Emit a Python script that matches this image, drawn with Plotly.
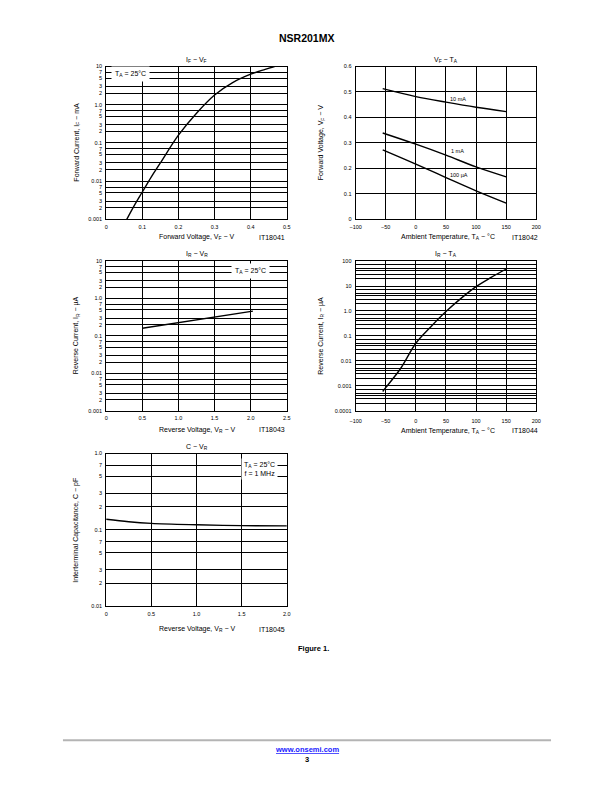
import plotly.graph_objects as go

# ---------------- data ----------------
# IF - VF
vf_v = [0.057, 0.08, 0.1, 0.125, 0.15, 0.2, 0.25, 0.3, 0.35, 0.4, 0.44, 0.466]
if_ma = [0.001, 0.0025, 0.0052, 0.013, 0.03, 0.16, 0.6, 1.8, 3.8, 6.3, 8.4, 10]

# VF - TA
ta_c = [-55, 0, 50, 100, 150]
vf_10ma = [0.513, 0.482, 0.46, 0.44, 0.423]
vf_1ma = [0.339, 0.295, 0.252, 0.206, 0.167]
vf_100ua = [0.273, 0.217, 0.164, 0.112, 0.064]
vfta_labels = ["10 mA", "1 mA", "100 µA"]
vfta_label_x = [70, 70, 72]
vfta_label_y = [0.474, 0.27, 0.176]

# IR - VR
vr_v = [0.5, 1.0, 1.5, 2.03]
ir_ua = [0.16, 0.226, 0.319, 0.46]

# IR - TA
ta2_c = [-55, -50, -25, 0, 25, 50, 75, 100, 125, 150]
ir2_ua = [0.0006, 0.00085, 0.0051, 0.051, 0.235, 0.95, 3.2, 9.4, 22, 48]

# C - VR
vr5_v = [0, 0.25, 0.5, 1.0, 1.5, 2.0]
cap_pf = [0.138, 0.128, 0.122, 0.117, 0.114, 0.113]

# tick labels
p1_ytext = ["10", "7", "5", "3", "2", "1.0", "7", "5", "3", "2", "0.1", "7", "5", "3", "2",
            "0.01", "7", "5", "3", "2", "0.001"]
p1_yvals = [10, 7, 5, 3, 2, 1, 0.7, 0.5, 0.3, 0.2, 0.1, 0.07, 0.05, 0.03, 0.02,
            0.01, 0.007, 0.005, 0.003, 0.002, 0.001]
p1_xtext = ["0", "0.1", "0.2", "0.3", "0.4", "0.5"]
p1_xvals = [0, 0.1, 0.2, 0.3, 0.4, 0.5]
p2_xtext = ["−100", "−50", "0", "50", "100", "150", "200"]
p2_xvals = [-100, -50, 0, 50, 100, 150, 200]
p2_ytext = ["0", "0.1", "0.2", "0.3", "0.4", "0.5", "0.6"]
p2_yvals = [0, 0.1, 0.2, 0.3, 0.4, 0.5, 0.6]
p3_xtext = ["0", "0.5", "1.0", "1.5", "2.0", "2.5"]
p3_xvals = [0, 0.5, 1.0, 1.5, 2.0, 2.5]
p4_decades = [100, 10, 1, 0.1, 0.01, 0.001, 0.0001]
p4_dectext = ["100", "10", "1.0", "0.1", "0.01", "0.001", "0.0001"]
p4_minor_mult = [2, 3, 4, 5, 7]
p5_ytext = ["1.0", "7", "5", "3", "2", "0.1", "7", "5", "3", "2", "0.01"]
p5_yvals = [1, 0.7, 0.5, 0.3, 0.2, 0.1, 0.07, 0.05, 0.03, 0.02, 0.01]
p5_xtext = ["0", "0.5", "1.0", "1.5", "2.0"]
p5_xvals = [0, 0.5, 1.0, 1.5, 2.0]

# ---------------- layout helpers ----------------
W, H = 612, 792
FONT = "Liberation Sans, Arial, sans-serif"


def px(x):
    return x / W


def py(y):
    return 1 - y / H


boxes = {
    1: (102, 286, 64, 218),
    2: (356, 540, 64, 218),
    3: (102, 286, 260, 411),
    4: (356, 540, 260, 411),
    5: (102, 286, 454, 608),
}
x_standoff = {1: 2, 2: 2, 3: 2, 4: 5, 5: 2}

fig = go.Figure()
line_style = dict(color="black", width=1.4)

fig.add_trace(go.Scatter(x=vf_v, y=if_ma, mode="lines", line=dict(shape="spline", **line_style),
                         xaxis="x", yaxis="y"))
for ser in (vf_10ma, vf_1ma, vf_100ua):
    fig.add_trace(go.Scatter(x=ta_c, y=ser, mode="lines", line=dict(shape="spline", **line_style),
                             xaxis="x2", yaxis="y2"))
fig.add_trace(go.Scatter(x=vr_v, y=ir_ua, mode="lines", line=line_style, xaxis="x3", yaxis="y3"))
fig.add_trace(go.Scatter(x=ta2_c, y=ir2_ua, mode="lines", line=dict(shape="spline", **line_style),
                         xaxis="x4", yaxis="y4"))
fig.add_trace(go.Scatter(x=vr5_v, y=cap_pf, mode="lines", line=dict(shape="spline", **line_style),
                         xaxis="x5", yaxis="y5"))

tickfont = dict(family=FONT, size=5.5, color="black")
common = dict(showline=True, mirror=True, linecolor="black", linewidth=1, showgrid=True,
              gridcolor="black", gridwidth=1, zeroline=False, ticks="", tickfont=tickfont,
              tickmode="array", fixedrange=True)

# IR-TA minor grid values
p4_minor_vals = [d / 10 * m for d in p4_decades[:-1] for m in p4_minor_mult]

axes = {
    1: dict(x=dict(range=[0, 0.5], tickvals=p1_xvals, ticktext=p1_xtext),
            y=dict(type="log", range=[-3, 1], tickvals=p1_yvals, ticktext=p1_ytext)),
    2: dict(x=dict(range=[-100, 200], tickvals=p2_xvals, ticktext=p2_xtext),
            y=dict(range=[0, 0.6], tickvals=p2_yvals, ticktext=p2_ytext)),
    3: dict(x=dict(range=[0, 2.5], tickvals=p3_xvals, ticktext=p3_xtext),
            y=dict(type="log", range=[-3, 1], tickvals=p1_yvals, ticktext=p1_ytext)),
    4: dict(x=dict(range=[-100, 200], tickvals=p2_xvals, ticktext=p2_xtext),
            y=dict(type="log", range=[-4, 2], tickvals=p4_decades, ticktext=p4_dectext,
                   minor=dict(tickmode="array", tickvals=p4_minor_vals, showgrid=True,
                              gridcolor="black", gridwidth=1, ticks=""))),
    5: dict(x=dict(range=[0, 2.0], tickvals=p5_xvals, ticktext=p5_xtext),
            y=dict(type="log", range=[-2, 0], tickvals=p5_yvals, ticktext=p5_ytext)),
}

layout_axes = {}
for i, (L, R, T, B) in boxes.items():
    xs = "xaxis" if i == 1 else f"xaxis{i}"
    ys = "yaxis" if i == 1 else f"yaxis{i}"
    xa = dict(common, domain=[px(L), px(R)], anchor="y" if i == 1 else f"y{i}",
              ticklabelstandoff=x_standoff[i], **axes[i]["x"])
    ya = dict(common, domain=[py(B), py(T)], anchor="x" if i == 1 else f"x{i}",
              ticklabelstandoff=2, **axes[i]["y"])
    layout_axes[xs] = xa
    layout_axes[ys] = ya

ann = []


def text(x, y, t, size=7, bold=False, angle=0, color="black", xanchor="center", **kw):
    if bold:
        t = f"<b>{t}</b>"
    ann.append(dict(x=px(x), y=py(y), xref="paper", yref="paper", text=t, showarrow=False,
                    textangle=angle, xanchor=xanchor, yanchor="middle",
                    font=dict(family=FONT, size=size, color=color), **kw))


# page header / footer
text(306, 35, "NSR201MX", size=10.5, bold=True)
text(313, 650, "Figure 1.", size=7.5, bold=True)
text(306, 752, "<u>www.onsemi.com</u>", size=7.5, bold=True, color="#1a1aff")
text(306, 762, "3", size=7.5, bold=True)

# subplot titles
text(194, 57, "I<sub>F</sub> − V<sub>F</sub>", size=7)
text(448, 57, "V<sub>F</sub> − T<sub>A</sub>", size=7)
text(194, 253, "I<sub>R</sub> − V<sub>R</sub>", size=7)
text(448, 253, "I<sub>R</sub> − T<sub>A</sub>", size=7)
text(194, 447, "C − V<sub>R</sub>", size=7)

# x axis titles
text(195, 236, "Forward Voltage, V<sub>F</sub> − V", size=7)
text(271, 236, "IT18041", size=7)
text(450, 236, "Ambient Temperature, T<sub>A</sub> − °C", size=7)
text(528, 236, "IT18042", size=7)
text(195, 430, "Reverse Voltage, V<sub>R</sub> − V", size=7)
text(271, 430, "IT18043", size=7)
text(450, 431, "Ambient Temperature, T<sub>A</sub> − °C", size=7)
text(528, 431, "IT18044", size=7)
text(194, 631, "Reverse Voltage, V<sub>R</sub> − V", size=7)
text(271, 631, "IT18045", size=7)

# y axis titles
text(72, 140, "Forward Current, I<sub>F</sub> − mA", size=7, angle=-90)
text(321, 140, "Forward Voltage, V<sub>F</sub> − V", size=7, angle=-90)
text(72, 335, "Reverse Current, I<sub>R</sub> − µA", size=7, angle=-90)
text(321, 335, "Reverse Current, I<sub>R</sub> − µA", size=7, angle=-90)
text(71, 531, "Interterminal Capacitance, C − pF", size=7, angle=-90)

# in-plot boxes
text(127, 72, "T<sub>A</sub> = 25°C", size=7, bgcolor="white", borderpad=3)
text(249, 270, "T<sub>A</sub> = 25°C", size=7, bgcolor="white", borderpad=3)
text(258, 470, "T<sub>A</sub> = 25°C<br>f = 1 MHz", size=7, bgcolor="white", borderpad=2)

# VF-TA curve labels
for lab, lx, ly in zip(vfta_labels, vfta_label_x, vfta_label_y):
    ann.append(dict(x=lx, y=ly, xref="x2", yref="y2", text=lab, showarrow=False,
                    font=dict(family=FONT, size=5.5, color="black")))

shapes = [dict(type="line", xref="paper", yref="paper", x0=px(58), x1=px(555), y0=py(743), y1=py(743),
               line=dict(color="#b4b4b4", width=2))]

fig.update_layout(width=W, height=H, margin=dict(l=0, r=0, t=0, b=0), paper_bgcolor="white",
                  plot_bgcolor="white", showlegend=False, annotations=ann, shapes=shapes,
                  **layout_axes)

fig.write_html("out.html")
